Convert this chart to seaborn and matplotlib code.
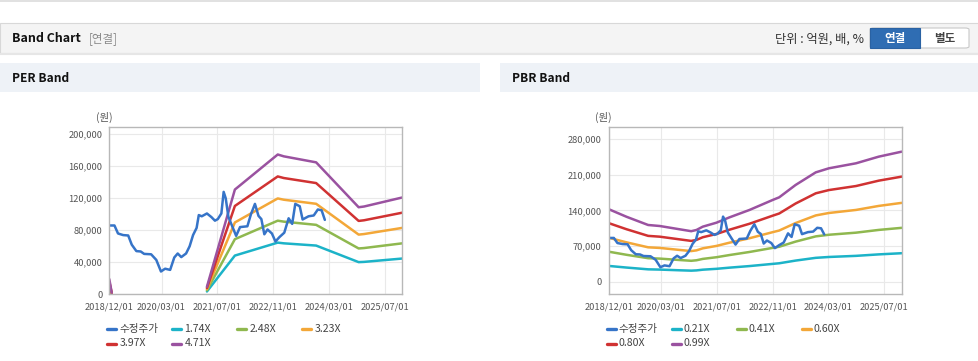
import matplotlib
matplotlib.use('Agg')
import matplotlib.pyplot as plt
import matplotlib.dates as mdates
from matplotlib.patches import Rectangle, FancyBboxPatch
from matplotlib.lines import Line2D
from matplotlib.ticker import FuncFormatter
import seaborn as sns
import pandas as pd

# --- data ---
price_dates = ['2018-12-01', '2019-01-15', '2019-02-15', '2019-04-01', '2019-05-15', '2019-06-15',
               '2019-07-25', '2019-09-01', '2019-10-01', '2019-12-01', '2020-01-15', '2020-02-25',
               '2020-04-01', '2020-05-15', '2020-06-20', '2020-07-20', '2020-08-20', '2020-10-01',
               '2020-11-01', '2020-12-01', '2021-01-01', '2021-01-20', '2021-02-15', '2021-04-01',
               '2021-05-10', '2021-06-10', '2021-07-05', '2021-08-05', '2021-08-25', '2021-09-12',
               '2021-10-05', '2021-11-05', '2021-12-12', '2022-01-15', '2022-03-20', '2022-04-20',
               '2022-05-25', '2022-06-25', '2022-07-20', '2022-08-15', '2022-09-12', '2022-10-20',
               '2022-11-20', '2022-12-25', '2023-02-05', '2023-03-15', '2023-04-15', '2023-05-12',
               '2023-06-20', '2023-07-15', '2023-09-05', '2023-10-20', '2023-11-25', '2023-12-28',
               '2024-01-25']
price_vals = [86000, 86000, 76000, 74000, 73500, 62000,
              54000, 53500, 50500, 50000, 43000, 28500,
              32000, 30500, 46000, 51000, 46500, 51000,
              60000, 74000, 83000, 99000, 97500, 101000,
              96500, 92000, 94000, 101000, 128000, 120000,
              97000, 86000, 73000, 84000, 85000, 100000,
              113000, 98000, 94000, 75000, 81000, 76000,
              66000, 71500, 77000, 95000, 88000, 113000,
              110000, 93500, 97500, 98500, 106000, 105000,
              93000]

per_dates = ['2018-12-01', '2018-12-22', '2021-04-01', '2021-12-01', '2022-12-10', '2023-02-01',
             '2023-11-10', '2024-11-15', '2025-01-01', '2025-12-01']
per_seg = [0, 0, 1, 1, 1, 1, 1, 1, 1, 1]
per_174 = [7000, 700, 3500, 48400, 64600, 63700, 60900, 40200, 40500, 44700]
per_248 = [10000, 1000, 5000, 68900, 92000, 90800, 86800, 57300, 57800, 63700]
per_323 = [13000, 1400, 6500, 89800, 119800, 118200, 113100, 74600, 75300, 83000]
per_397 = [16000, 1700, 7900, 110400, 147300, 145300, 139000, 91700, 92500, 102000]
per_471 = [19000, 2000, 9400, 130900, 174700, 172400, 164900, 108800, 109700, 121000]
per_labels = ['1.74X', '2.48X', '3.23X', '3.97X', '4.71X']

pbr_dates = ['2018-12-01', '2019-05-05', '2019-11-10', '2020-02-20', '2020-08-12', '2020-11-20',
             '2021-01-05', '2021-03-01', '2021-06-28', '2021-10-20', '2022-04-12', '2022-11-01',
             '2022-12-28', '2023-05-20', '2023-11-12', '2024-03-06', '2024-10-28', '2025-05-15',
             '2025-12-01']
pbr_021 = [31000, 27800, 24300, 23800, 22400, 21700, 22200, 23600, 25300, 27600, 30700, 35000,
           36200, 41500, 46900, 48600, 50800, 53700, 56000]
pbr_041 = [59000, 52900, 46200, 45400, 42600, 41100, 42100, 44800, 48100, 52400, 58400, 66500,
           68700, 78800, 89100, 92300, 96400, 101800, 105900]
pbr_060 = [86400, 77400, 67600, 66400, 62400, 60200, 61600, 65600, 70300, 76700, 85400, 97400,
           100600, 115300, 130300, 135100, 141100, 149000, 155000]
pbr_080 = [115200, 103200, 90100, 88500, 83200, 80200, 82200, 87400, 93800, 102200, 113900, 129800,
           134100, 153700, 173800, 180200, 188100, 198700, 206600]
pbr_099 = [142600, 127700, 111500, 109500, 103000, 99300, 101700, 108200, 116000, 126500, 141000, 160700,
           165900, 190200, 215000, 223000, 232800, 245900, 255700]
pbr_labels = ['0.21X', '0.41X', '0.60X', '0.80X', '0.99X']

tick_dates = ['2018-12-01', '2020-03-01', '2021-07-01', '2022-11-01', '2024-03-01', '2025-07-01']
price_label = '수정주가'

band_colors = ['#1cb3c8', '#8fb84f', '#f3a738', '#d03232', '#9a52a0']
price_color = '#3674c8'

sns.set_style('white')
plt.rcParams['font.family'] = ['Noto Sans CJK KR', 'DejaVu Sans']

W, H = 979, 361
fig = plt.figure(figsize=(W / 100, H / 100), dpi=100)


def fx(x):
    return x / W


def fy(y):
    return 1 - y / H


def rect(x0, y0, x1, y1, **kw):
    fig.patches.append(Rectangle((fx(x0), fy(y1)), (x1 - x0) / W, (y1 - y0) / H,
                                 transform=fig.transFigure, **kw))


# page chrome
fig.lines.append(Line2D([0, 1], [fy(0.8), fy(0.8)], transform=fig.transFigure, color='#dcdcdc', lw=1.2))
rect(0, 23, W, 53, facecolor='#f4f4f4', edgecolor='#d8d8d8', lw=0.8)
fig.lines.append(Line2D([0, 1], [fy(54), fy(54)], transform=fig.transFigure, color='#e6e6e6', lw=1.5))
fig.text(fx(12), fy(38.5), 'Band Chart', fontsize=8.9, fontweight='bold', color='#111111', va='center')
fig.text(fx(89), fy(39), '[연결]', fontsize=8.3, color='#8a8a8a', va='center')
fig.text(fx(864), fy(39), '단위 : 억원, 배, %', fontsize=8.8, color='#333333', va='center', ha='right')
fig.patches.append(FancyBboxPatch((fx(870), fy(48)), 99 / W, 20 / H, boxstyle='round,pad=0,rounding_size=0.004',
                                  transform=fig.transFigure, facecolor='white', edgecolor='#c8c8c8', lw=0.8))
rect(870, 28, 920, 48, facecolor='#2f6db3', edgecolor='#2a62a3', lw=0.8)
fig.text(fx(895), fy(38.5), '연결', fontsize=8.3, fontweight='bold', color='white', va='center', ha='center')
fig.text(fx(944.5), fy(38.5), '별도', fontsize=8.3, fontweight='bold', color='#444444', va='center', ha='center')

for x0, x1, title in [(0, 480, 'PER Band'), (500, W, 'PBR Band')]:
    rect(x0, 63, x1, 92, facecolor='#eef2f7', edgecolor='none')
    fig.text(fx(x0 + 12), fy(78), title, fontsize=8.6, fontweight='bold', color='#111111', va='center')


def band_frame(dates, bands, labels, seg=None):
    rows = []
    for vals, lab in zip(bands, labels):
        for i, (d, v) in enumerate(zip(dates, vals)):
            rows.append({'date': pd.Timestamp(d), 'value': v, 'band': lab,
                         'seg': seg[i] if seg is not None else 0})
    return pd.DataFrame(rows)


def draw_panel(left, ylim, yticks, df_band, labels):
    ax = fig.add_axes([fx(left), fy(294.3), 293 / W, 167 / H])
    sns.lineplot(data=df_band, x='date', y='value', hue='band', units='seg', estimator=None,
                 palette=band_colors, hue_order=labels, lw=1.8, legend=False, ax=ax)
    sns.lineplot(x=pd.to_datetime(price_dates), y=price_vals, color=price_color, lw=1.8, ax=ax)
    ax.set_xlim(pd.Timestamp('2018-12-01'), pd.Timestamp('2025-12-01'))
    ax.set_ylim(*ylim)
    ax.set_xticks(pd.to_datetime(tick_dates))
    ax.xaxis.set_major_formatter(mdates.DateFormatter('%Y/%m/%d'))
    ax.set_yticks(yticks)
    ax.yaxis.set_major_formatter(FuncFormatter(lambda v, p: f'{int(v):,}'))
    ax.set_xlabel('')
    ax.set_ylabel('')
    ax.grid(True, color='#e9e9e9', lw=0.8)
    for s in ax.spines.values():
        s.set_color('#b8b8b8')
        s.set_linewidth(1)
    ax.tick_params(axis='both', length=0, labelsize=6.7, labelcolor='#555555')
    ax.tick_params(axis='x', pad=6)
    ax.tick_params(axis='y', pad=5)
    fig.text(fx(left - 5), fy(117), '(원)', fontsize=7.5, color='#555555', ha='center', va='center')

    # legend
    names = [price_label] + labels
    cols = [price_color] + band_colors
    for i, (n, c) in enumerate(zip(names, cols)):
        x0 = left - 2 + 65 * (i % 4)
        y0 = 329 + 14.5 * (i // 4)
        fig.lines.append(Line2D([fx(x0), fx(x0 + 9)], [fy(y0), fy(y0)], transform=fig.transFigure,
                                color=c, lw=2.4))
        fig.text(fx(x0 + 12), fy(y0), n, fontsize=7.6, color='#444444', va='center')
    return ax


per_df = band_frame(per_dates, [per_174, per_248, per_323, per_397, per_471], per_labels, per_seg)
pbr_df = band_frame(pbr_dates, [pbr_021, pbr_041, pbr_060, pbr_080, pbr_099], pbr_labels)

draw_panel(109.3, (0, 208700), [0, 40000, 80000, 120000, 160000, 200000], per_df, per_labels)
draw_panel(608.7, (-24800, 303600), [0, 70000, 140000, 210000, 280000], pbr_df, pbr_labels)

fig.savefig('out.png', dpi=100)
